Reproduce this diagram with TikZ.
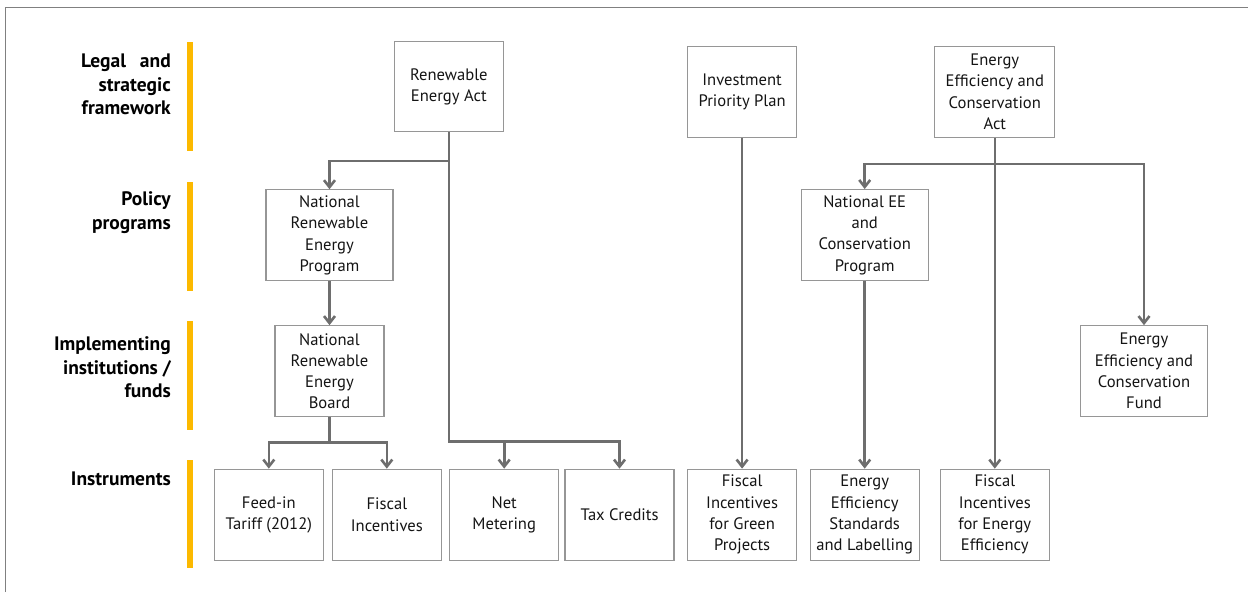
\documentclass[tikz,border=0pt]{standalone}
\usepackage{fontspec}
\setmainfont{PT Sans}
\usetikzlibrary{arrows.meta}
\definecolor{conncol}{RGB}{110,110,110}
\definecolor{boxcol}{RGB}{150,150,150}
\definecolor{barcol}{RGB}{252,185,0}
\definecolor{framecol}{RGB}{128,128,128}
\definecolor{txtcol}{RGB}{20,20,20}
\begin{document}
\begin{tikzpicture}[x=1pt,y=-1pt,
  box/.style={draw=boxcol, line width=1.1pt, align=center, inner sep=0pt,
    minimum height=91pt, text=txtcol, font=\fontsize{16.6}{21.3}\selectfont},
  wn/.style={minimum width=109pt},
  ww/.style={minimum width=127pt},
  link/.style={draw=conncol, line width=2.6pt},
  arr/.style={link, -{Straight Barb[length=7pt,width=11pt]}},
  lab/.style={anchor=east, align=right, inner sep=0pt, text=black,
    font=\bfseries\fontsize{19.5}{23.5}\selectfont},
  ybar/.style={fill=barcol, draw=none}]
\useasboundingbox (0,0) rectangle (1248,592);
% frame
\draw[framecol, line width=1.6pt] (5.5,592) -- (5.5,7.5) -- (1248,7.5);
% yellow bars
\fill[ybar] (187.3,41.7) rectangle (192.7,150.7);
\fill[ybar] (187.3,182) rectangle (192.7,290.7);
\fill[ybar] (187.3,321) rectangle (192.7,429.7);
\fill[ybar] (187.3,460) rectangle (192.7,567.7);
% row labels
\node[lab] (l1) at (171,84.7) {Legal\hspace{9pt} and\\strategic\\framework};
\node[lab] (l2) at (171,212.7) {Policy\\programs};
\node[lab] (l3) at (171,367.2) {Implementing\\institutions /\\funds};
\node[lab] (l4) at (171,479.3) {Instruments};
% boxes: top row
\node[box, wn, minimum height=90pt] (rea) at (448.8,86.7) {Renewable\\Energy Act};
\node[box, wn] (ipp) at (742.1,91.8) {Investment\\Priority Plan};
\node[box, minimum width=120pt] (eeca) at (994.8,91.8) {Energy\\Efficiency and\\Conservation\\Act};
% policy programs
\node[box, ww] (nrep) at (329.5,235.3) {National\\Renewable\\Energy\\Program};
\node[box, ww] (neecp) at (864.7,235.1) {National EE\\and\\Conservation\\Program};
% institutions
\node[box, wn] (nreb) at (329.5,371.2) {National\\Renewable\\Energy\\Board};
\node[box, ww] (fund) at (1144,371.2) {Energy\\Efficiency and\\Conservation\\Fund};
% instruments
\node[box, wn] (fit) at (268.8,514.7) {Feed-in\\Tariff (2012)};
\node[box, wn] (fi) at (386.8,514.7) {Fiscal\\Incentives};
\node[box, wn] (nm) at (504.2,514.7) {Net\\Metering};
\node[box, wn] (tc) at (619.5,514.7) {Tax Credits};
\node[box, wn] (figp) at (742.1,514.7) {Fiscal\\Incentives\\for Green\\Projects};
\node[box, wn] (eesl) at (864.7,514.7) {Energy\\Efficiency\\Standards\\and Labelling};
\node[box, wn] (fiee) at (994.8,514.7) {Fiscal\\Incentives\\for Energy\\Efficiency};
% junctions
\coordinate (jA) at (448.8,161);
\coordinate (jB) at (448.8,441.3);
\coordinate (jC) at (329.5,442.7);
\coordinate (jD) at (994.8,164);
% connectors
\draw[arr] (rea.south) -- (jB) -| (tc.north);
\draw[arr] (jB) -| (nm.north);
\draw[arr] (jA) -| (nrep.north);
\draw[arr] (nrep.south) -- (nreb.north);
\draw[link] (nreb.south) -- (jC);
\draw[arr] (jC) -| (fit.north);
\draw[arr] (jC) -| (fi.north);
\draw[arr] (ipp.south) -- (figp.north);
\draw[arr] (eeca.south) -- (fiee.north);
\draw[arr] (jD) -| (neecp.north);
\draw[arr] (jD) -| (fund.north);
\draw[arr] (neecp.south) -- (eesl.north);
\end{tikzpicture}
\end{document}
